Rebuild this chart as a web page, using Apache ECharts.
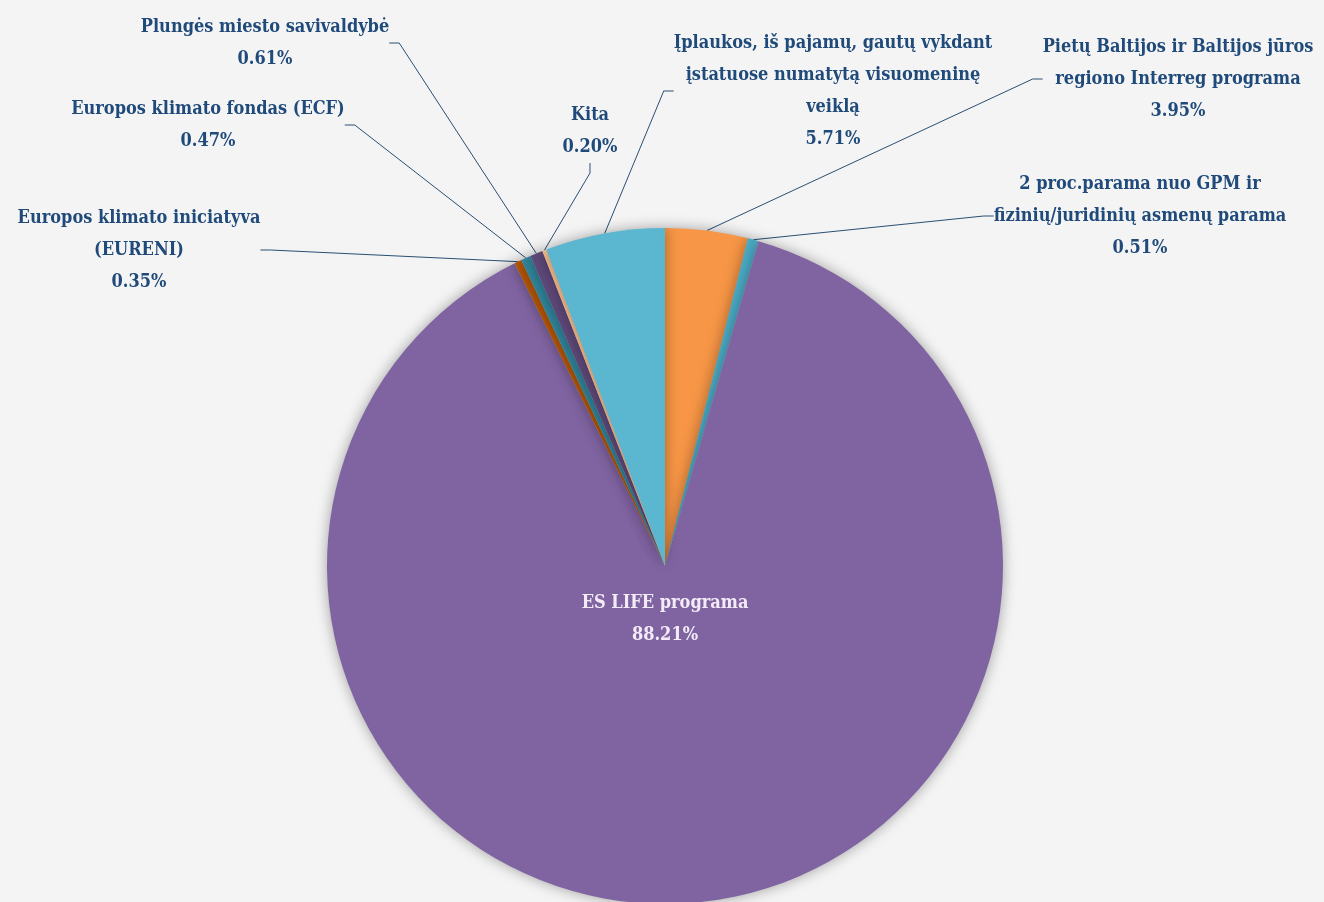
<!DOCTYPE html>
<html>
<head>
<meta charset="utf-8">
<script src="https://cdn.jsdelivr.net/npm/echarts@6/dist/echarts.min.js"></script>
<style>
  html, body { margin: 0; padding: 0; background: #f4f4f4; }
  #main { width: 1324px; height: 902px; }
</style>
</head>
<body>
<div id="main"></div>
<script>
// šaltiniai (pagal laikrodžio rodyklę nuo viršaus)
var names = [
    'Pietų Baltijos ir Baltijos jūros\nregiono Interreg programa',
    '2 proc.parama nuo GPM ir\nfizinių/juridinių asmenų parama',
    'ES LIFE programa',
    'Europos klimato iniciatyva\n(EURENI)',
    'Europos klimato fondas (ECF)',
    'Plungės miesto savivaldybė',
    'Kita',
    'Įplaukos, iš pajamų, gautų vykdant\nįstatuose numatytą visuomeninę\nveiklą'
]
var shares = [3.95, 0.51, 88.21, 0.35, 0.47, 0.61, 0.20, 5.71]
var colors = ['#f79646', '#4bacc6', '#8064a2', '#b65708', '#31859c', '#5f497a', '#fac090', '#5bb6d0']

// etikečių vietos (centras)
var labelPos = [
    [1178, 79], [1140, 216], [665, 619], [139, 250],
    [208, 125], [265, 43], [590, 131], [833, 91]
]

var dom = document.getElementById('main')
var myChart = echarts.init(dom)

var data = names.map(function (n, i) {
    var item = { name: n, value: shares[i], itemStyle: { color: colors[i] } }
    if (i == 2) {
        item.label = { color: '#f3ecf7' }
        item.labelLine = { show: false }
    }
    return item
})

var option = {
    backgroundColor: '#f4f4f4',
    textStyle: { fontFamily: 'DejaVu Serif' },
    series: [
        {
            type: 'pie',
            center: [665, 566],
            radius: 338,
            startAngle: 90,
            clockwise: true,
            silent: true,
            animation: false,
            data: data,
            itemStyle: {
                shadowBlur: 14,
                shadowColor: 'rgba(0,0,0,0.35)'
            },
            label: {
                show: true,
                position: 'outside',
                color: '#1f4a7a',
                fontFamily: 'DejaVu Serif Condensed',
                fontWeight: 'bold',
                fontSize: 18,
                lineHeight: 32,
                align: 'center',
                formatter: function (p) {
                    return p.name + '\n' + p.value.toFixed(2) + '%'
                }
            },
            labelLine: {
                show: true,
                length: 20,
                length2: 10,
                lineStyle: { color: '#2a4f73', width: 1 }
            },
            labelLayout: function (params) {
                var pos = labelPos[params.dataIndex]
                return {
                    x: pos[0],
                    y: pos[1],
                    align: 'center',
                    verticalAlign: 'middle'
                }
            }
        }
    ]
}
myChart.setOption(option)
</script>
</body>
</html>
